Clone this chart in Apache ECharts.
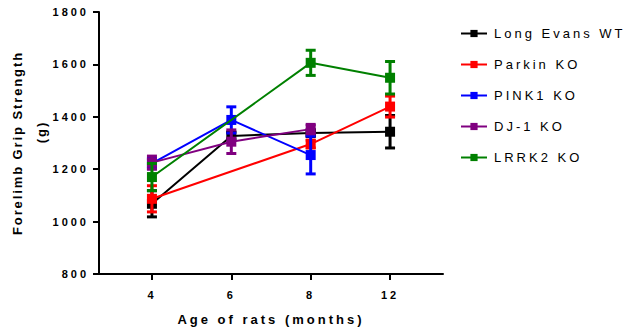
<!DOCTYPE html>
<html>
<head>
<meta charset="utf-8">
<script src="https://cdn.jsdelivr.net/npm/echarts@6/dist/echarts.min.js"></script>
<style>
html,body{margin:0;padding:0;background:#fff;}
#c{width:625px;height:330px;}
#c svg text{letter-spacing:3px;}
</style>
</head>
<body>
<div id="c"></div>
<script>
const categories = ['4', '6', '8', '12'];
const seriesNames = ['Long Evans WT', 'Parkin KO', 'PINK1 KO', 'DJ-1 KO', 'LRRK2 KO'];
const colors = ['#000000', '#ff0000', '#0000ff', '#800080', '#008000'];
const wtMean = [1068, 1327, 1338, 1343];
const wtErr = [50, 15, 10, 62];
const parkinMean = [1087, null, 1296, 1439];
const parkinErr = [50, null, 15, 40];
const pink1Mean = [1222, 1388, 1254, null];
const pink1Err = [20, 50, 72, null];
const dj1Mean = [1225, 1305, 1353, null];
const dj1Err = [25, 45, 18, null];
const lrrk2Mean = [1170, null, 1606, 1549];
const lrrk2Err = [52, null, 48, 62];
const yTicks = [800, 1000, 1200, 1400, 1600, 1800];

const means = [wtMean, parkinMean, pink1Mean, dj1Mean, lrrk2Mean];
const errs = [wtErr, parkinErr, pink1Err, dj1Err, lrrk2Err];

const chart = echarts.init(document.getElementById('c'), null, {renderer: 'svg'});
const series = [];
seriesNames.forEach((name, i) => {
  const color = colors[i];
  const errData = [];
  means[i].forEach((m, k) => {
    if (m != null) errData.push([k, m - errs[i][k], m + errs[i][k]]);
  });
  series.push({
    name: name + ' err',
    type: 'custom',
    data: errData,
    z: 2 + i,
    silent: true,
    renderItem: function (params, api) {
      const x = api.value(0);
      const lo = api.value(1), hi = api.value(2);
      const pHi = api.coord([x, hi]);
      const pLo = api.coord([x, lo]);
      const hw = 5;
      const style = {stroke: color, lineWidth: 3};
      return {
        type: 'group',
        children: [
          {type: 'line', shape: {x1: pHi[0], y1: pHi[1], x2: pLo[0], y2: pLo[1]}, style: style},
          {type: 'line', shape: {x1: pHi[0] - hw, y1: pHi[1], x2: pHi[0] + hw, y2: pHi[1]}, style: style},
          {type: 'line', shape: {x1: pLo[0] - hw, y1: pLo[1], x2: pLo[0] + hw, y2: pLo[1]}, style: style}
        ]
      };
    }
  });
  series.push({
    name: name,
    type: 'line',
    data: means[i].map((m, k) => [k, m]),
    connectNulls: true,
    symbol: 'rect',
    symbolSize: 10,
    showAllSymbol: true,
    z: 2 + i,
    lineStyle: {color: color, width: 2},
    itemStyle: {color: color},
    emphasis: {disabled: true}
  });
});

function tweakText() {
  document.querySelectorAll('#c svg text, #c svg tspan').forEach(t => {
    const s = t.textContent;
    if (s.indexOf('Forelimb') >= 0 || s.indexOf('(g)') >= 0) {
      t.style.setProperty('letter-spacing', '1.9px', 'important');
    }
    if (s.trim() === '(g)') {
      t.setAttribute('dx', '11');
    }
  });
}
chart.on('finished', tweakText);

chart.setOption({
  animation: false,
  backgroundColor: '#fff',
  textStyle: {fontFamily: 'Liberation Sans, Arial, sans-serif'},
  grid: {left: 99, right: 182, top: 12, bottom: 56, containLabel: false, outerBoundsMode: 'none'},
  legend: {
    data: seriesNames,
    orient: 'vertical',
    left: 455,
    top: 22,
    itemWidth: 26,
    itemHeight: 9,
    itemGap: 18,
    textStyle: {fontSize: 13, color: '#000', fontFamily: 'Liberation Sans, Arial, sans-serif', padding: [0, 0, 0, 2]},
    selectedMode: false
  },
  xAxis: {
    type: 'value',
    min: -0.667,
    max: 3.667,
    name: 'Age of rats (months)',
    nameLocation: 'middle',
    nameGap: 39,
    nameTextStyle: {fontSize: 13, fontWeight: 'bold', color: '#000'},
    axisLine: {onZero: false, lineStyle: {color: '#000', width: 2}},
    axisTick: {show: true, customValues: [0, 1, 2, 3], length: 6, lineStyle: {color: '#000', width: 2}},
    axisLabel: {
      customValues: [0, 1, 2, 3],
      formatter: v => categories[Math.round(v)],
      fontSize: 11, fontWeight: 'bold', color: '#000', margin: 15
    },
    splitLine: {show: false}
  },
  yAxis: {
    type: 'value',
    min: yTicks[0],
    max: yTicks[yTicks.length - 1],
    interval: 200,
    name: 'Forelimb Grip Strength\n(g)',
    nameLocation: 'middle',
    nameRotate: 90,
    nameGap: 44,
    nameTextStyle: {fontSize: 13, fontWeight: 'bold', color: '#000', lineHeight: 24},
    axisLine: {show: true, onZero: false, lineStyle: {color: '#000', width: 2}},
    axisTick: {show: true, length: 6, lineStyle: {color: '#000', width: 2}},
    axisLabel: {fontSize: 11, fontWeight: 'bold', color: '#000', margin: 10, formatter: v => String(v)},
    splitLine: {show: false}
  },
  series: series
});
tweakText();
setTimeout(tweakText, 0);
setTimeout(tweakText, 100);
</script>
</body>
</html>
